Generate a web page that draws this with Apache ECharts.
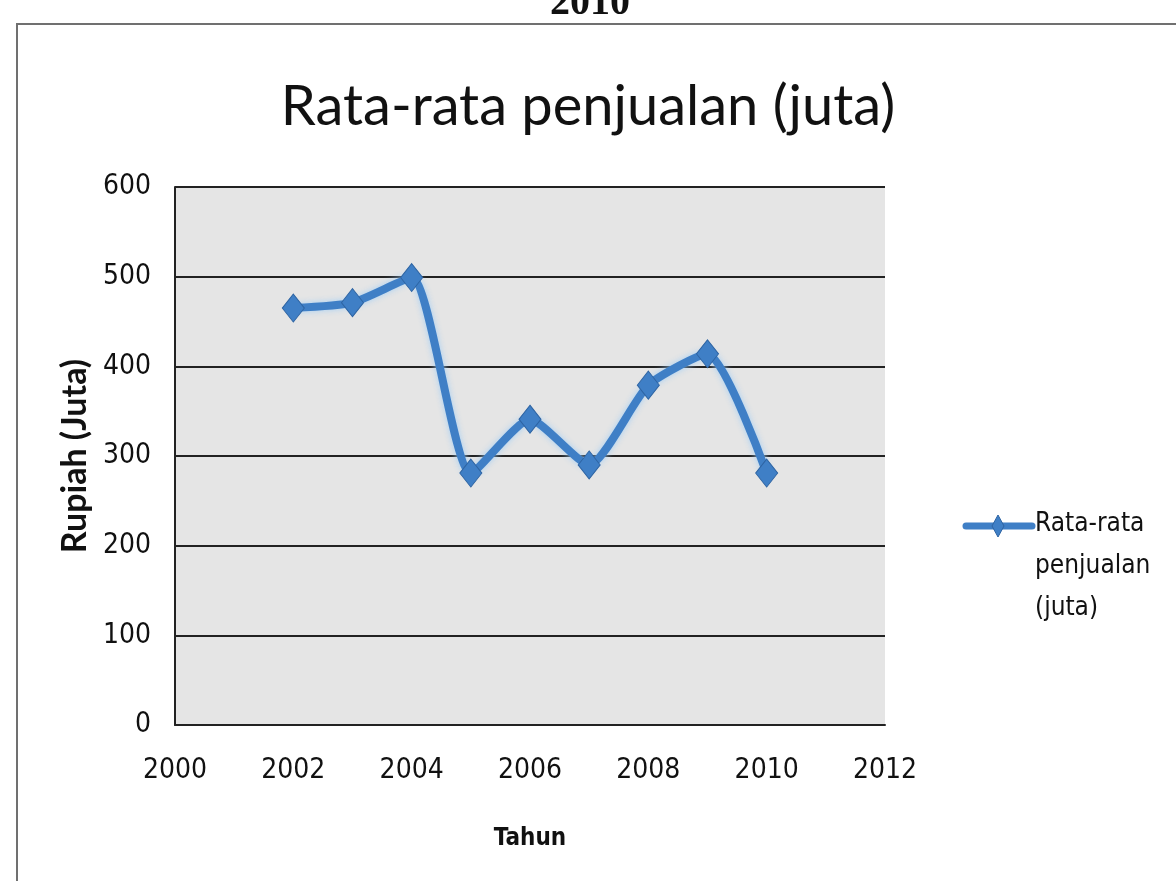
<!DOCTYPE html>
<html>
<head>
<meta charset="utf-8">
<script src="https://cdn.jsdelivr.net/npm/echarts@6/dist/echarts.min.js"></script>
<style>
  html, body { margin: 0; padding: 0; background: #fff; }
  #chart { width: 1176px; height: 881px; }
</style>
</head>
<body>
<div id="chart"></div>
<script>
// ================= 数据 =================
const years = [2002, 2003, 2004, 2005, 2006, 2007, 2008, 2009, 2010]
const sales = [465, 471, 499, 281, 341, 290, 379, 414, 281]
const seriesName = 'Rata-rata penjualan (juta)'
const legendLines = ['Rata-rata', 'penjualan', '(juta)']

const points = years.map((y, i) => [y, sales[i]])

const chart = echarts.init(document.getElementById('chart'))

const blue = '#3f7fc6'
const labelFont = '"Liberation Sans Narrow", "DejaVu Sans Condensed", "Open Sans", sans-serif'

const option = {
  backgroundColor: '#fff',
  animation: false,
  title: {
    text: 'Rata-rata penjualan (juta)',
    left: 'center',
    top: 74,
    textStyle: {
      fontFamily: 'Lato, "Open Sans", sans-serif',
      fontWeight: 'normal',
      fontSize: 56,
      color: '#111'
    }
  },
  grid: {
    left: 175,
    right: 291,
    top: 187,
    bottom: 156,
    show: true,
    backgroundColor: '#e5e5e5',
    borderWidth: 0
  },
  xAxis: {
    type: 'value',
    min: 2000,
    max: 2012,
    interval: 2,
    name: 'Tahun',
    nameLocation: 'middle',
    nameGap: 102,
    nameTextStyle: {
      fontFamily: labelFont,
      fontWeight: 'bold',
      fontSize: 24,
      color: '#111'
    },
    axisLine: { show: true, lineStyle: { color: '#222', width: 2 } },
    axisTick: { show: false },
    splitLine: { show: false },
    axisLabel: {
      margin: 32,
      formatter: (v) => String(v),
      fontFamily: labelFont,
      fontSize: 28,
      color: '#111'
    }
  },
  yAxis: {
    type: 'value',
    min: 0,
    max: 600,
    interval: 100,
    name: 'Rupiah (Juta)',
    nameLocation: 'middle',
    nameGap: 80,
    nameTextStyle: {
      fontFamily: 'Lato, "Open Sans", sans-serif',
      fontWeight: 'bold',
      fontSize: 34,
      color: '#111'
    },
    axisLine: { show: true, lineStyle: { color: '#222', width: 2 } },
    axisTick: { show: false },
    splitLine: { show: true, lineStyle: { color: '#222', width: 2 } },
    axisLabel: {
      margin: 24,
      fontFamily: labelFont,
      fontSize: 28,
      color: '#111'
    }
  },
  series: [
    {
      name: seriesName,
      type: 'line',
      data: points,
      smooth: 0.2,
      symbol: 'diamond',
      symbolSize: [22, 28],
      lineStyle: {
        color: blue,
        width: 8,
        shadowColor: 'rgba(160,205,245,0.95)',
        shadowBlur: 6
      },
      itemStyle: {
        color: blue,
        borderColor: '#2e64a3',
        borderWidth: 1
      },
      z: 3
    }
  ],
  graphic: [
    // 外框
    {
      type: 'rect',
      shape: { x: 17, y: 24, width: 1200, height: 900 },
      style: { fill: 'none', stroke: '#707070', lineWidth: 2 },
      silent: true
    },
    // 上方被截断的标题
    {
      type: 'text',
      x: 590,
      y: 24,
      style: {
        text: '2010',
        font: 'bold 40px "Liberation Serif", serif',
        fill: '#111',
        textAlign: 'center',
        textVerticalAlign: 'bottom'
      },
      silent: true
    },
    // 图例
    {
      type: 'line',
      shape: { x1: 966, y1: 526, x2: 1032, y2: 526 },
      style: { stroke: blue, lineWidth: 7, lineCap: 'round' },
      silent: true
    },
    {
      type: 'polygon',
      shape: { points: [[998, 515], [1004, 526], [998, 537], [992, 526]] },
      style: { fill: blue, stroke: '#2e64a3', lineWidth: 1 },
      silent: true
    },
    {
      type: 'text',
      x: 1035,
      y: 503,
      style: {
        text: legendLines.join('\n'),
        font: '26px ' + labelFont,
        lineHeight: 42,
        fill: '#111'
      },
      silent: true
    }
  ]
}

chart.setOption(option)
window.addEventListener('resize', () => chart.resize())
</script>
</body>
</html>
